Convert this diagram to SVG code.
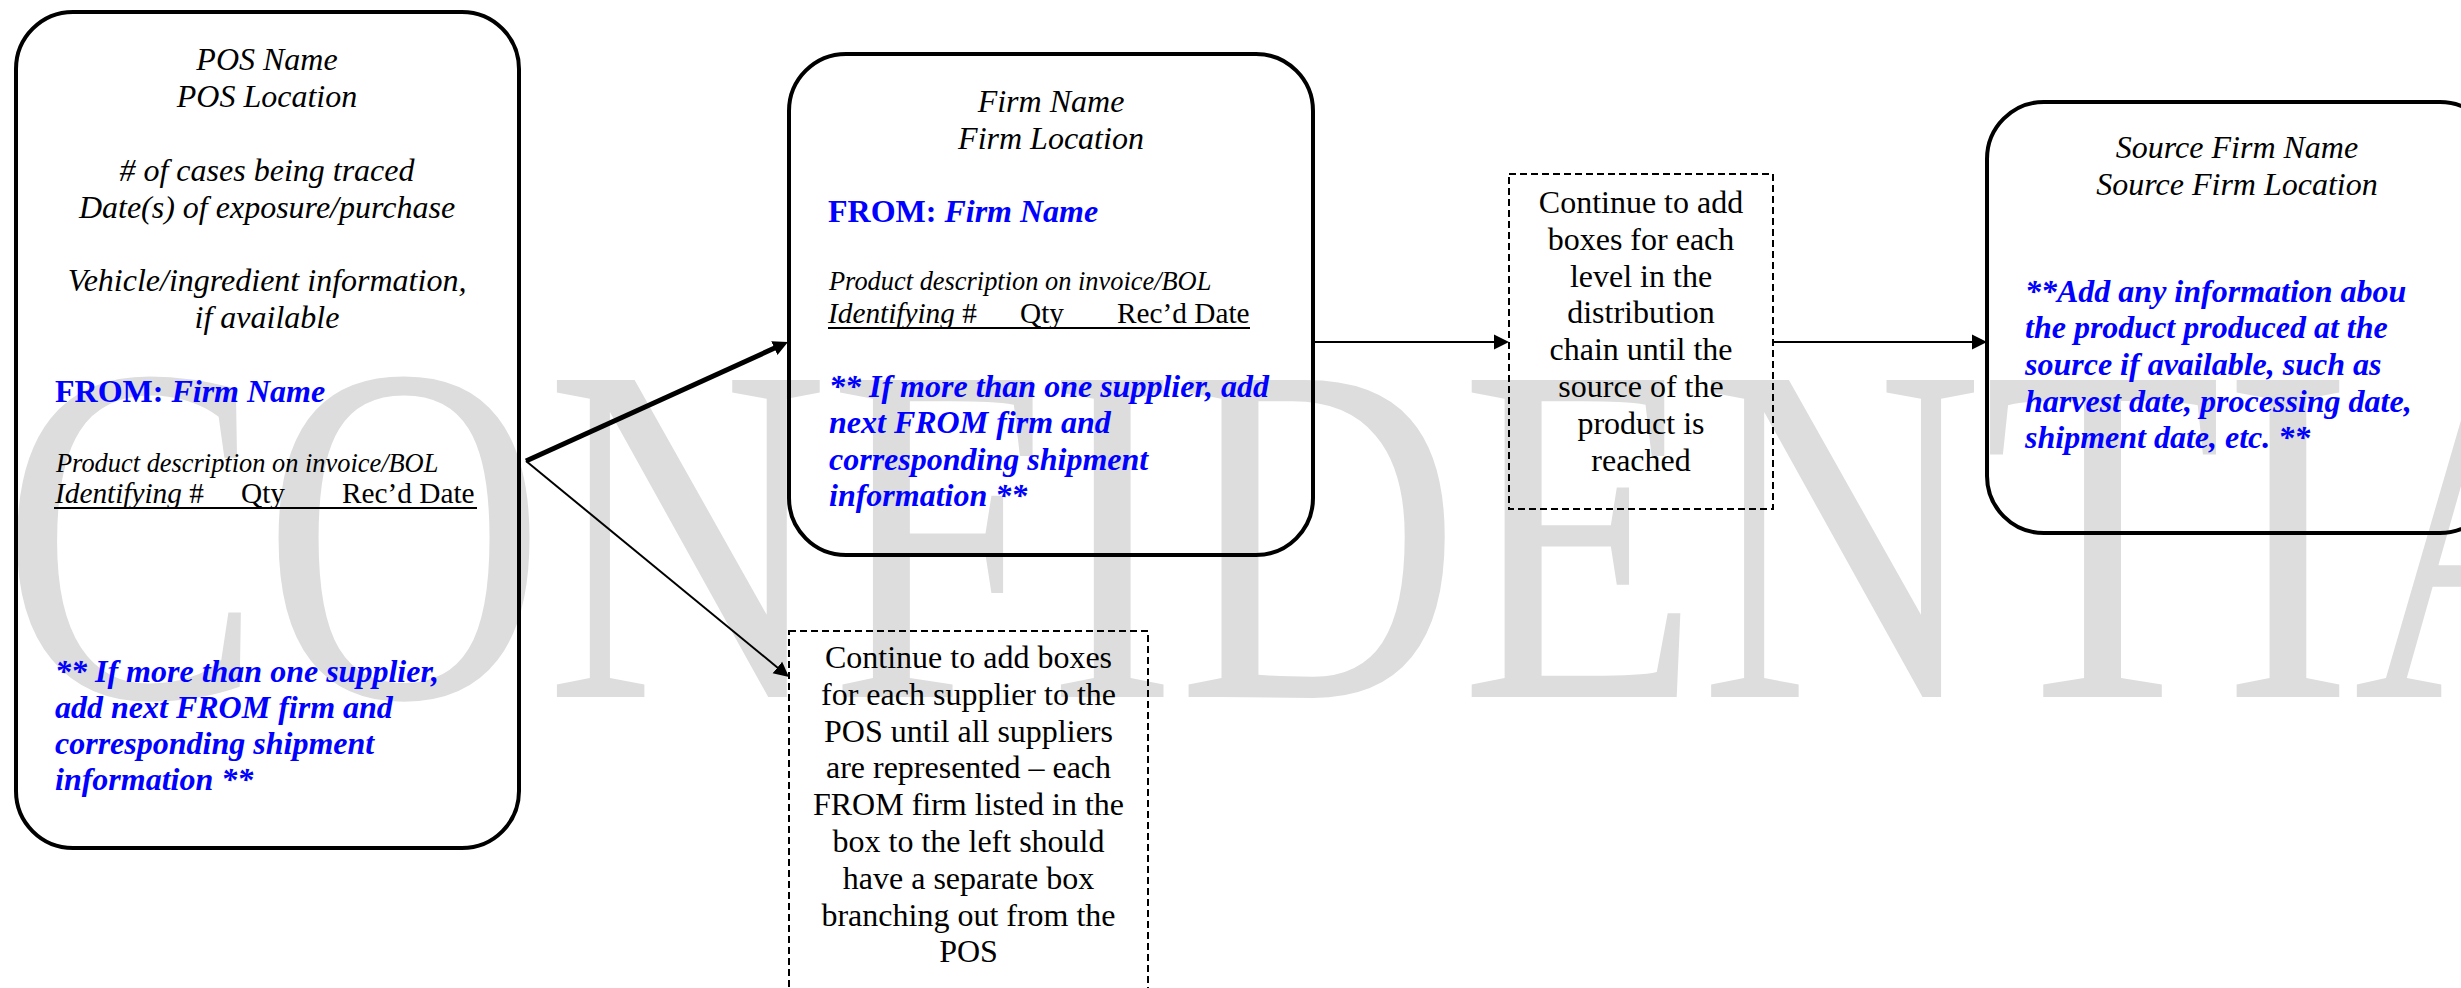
<svg xmlns="http://www.w3.org/2000/svg" width="2461" height="988" viewBox="0 0 2461 988">
<style>
.wm{font-family:"Liberation Serif","Times New Roman",serif;fill:#dddddd}
.box{fill:none;stroke:#000;stroke-width:4}
.dash{fill:none;stroke:#000;stroke-width:2;stroke-dasharray:7 4}
.t{font-family:"Liberation Serif","Times New Roman",serif;fill:#000}
.h{font-size:32px;font-style:italic;text-anchor:middle}
.n{font-size:32px;text-anchor:middle}
.b{fill:#0000ff;font-weight:bold;font-style:italic;font-size:32px}
.fr{fill:#0000ff;font-weight:bold;font-size:32px}
.pd{font-size:26.4px;font-style:italic}
.id{font-size:29.3px}
.ul{stroke:#000;stroke-width:2}
.c{fill:none;stroke:#000}
</style>
<defs>
<marker id="ah" markerUnits="userSpaceOnUse" markerWidth="16" markerHeight="16" viewBox="0 0 16 16" refX="7" refY="8" orient="auto"><path d="M0,0.5 L15,8 L0,15.5 Z" fill="#000"/></marker>
</defs>
<rect width="2461" height="988" fill="#fff"/>
<text class="wm" font-size="484" transform="translate(1,697) scale(0.81,1)">CONFIDENTIAL</text>

<g id="connectors">
<line class="c" stroke-width="5" x1="526" y1="461" x2="780.7" y2="345.3" marker-end="url(#ah)"/>
<line class="c" stroke-width="2" x1="526" y1="461" x2="782.8" y2="671.9" marker-end="url(#ah)"/>
<line class="c" stroke-width="2" x1="1313" y1="342" x2="1501" y2="342" marker-end="url(#ah)"/>
<line class="c" stroke-width="2" x1="1773" y1="342" x2="1979" y2="342" marker-end="url(#ah)"/>
</g>

<g id="pos-box">
<rect class="box" x="16" y="12" width="503" height="836" rx="57"/>
<text class="t h" x="267" y="70.4">POS Name</text>
<text class="t h" x="267" y="107.2">POS Location</text>
<text class="t h" x="267" y="180.8"># of cases being traced</text>
<text class="t h" x="267" y="217.6">Date(s) of exposure/purchase</text>
<text class="t h" x="267" y="291.2">Vehicle/ingredient information,</text>
<text class="t h" x="267" y="328">if available</text>
<text class="t fr" x="55" y="402">FROM: <tspan font-style="italic">Firm Name</tspan></text>
<text class="t pd" x="56" y="472">Product description on invoice/BOL</text>
<text class="t id" y="503"><tspan x="55" font-style="italic">Identifying</tspan> #<tspan x="241">Qty</tspan><tspan x="342">Rec’d Date</tspan></text>
<line class="ul" x1="54" y1="508" x2="477" y2="508"/>
<text class="t b" x="55" y="682">** If more than one supplier,</text>
<text class="t b" x="55" y="718">add next FROM firm and</text>
<text class="t b" x="55" y="754">corresponding shipment</text>
<text class="t b" x="55" y="790">information **</text>
</g>

<g id="firm-box">
<rect class="box" x="789" y="54" width="524" height="501" rx="57"/>
<text class="t h" x="1051" y="112">Firm Name</text>
<text class="t h" x="1051" y="148.5">Firm Location</text>
<text class="t fr" x="828" y="222">FROM: <tspan font-style="italic">Firm Name</tspan></text>
<text class="t pd" x="829" y="290">Product description on invoice/BOL</text>
<text class="t id" y="323"><tspan x="828" font-style="italic">Identifying</tspan> #<tspan x="1020">Qty</tspan><tspan x="1117">Rec’d Date</tspan></text>
<line class="ul" x1="828" y1="328" x2="1250" y2="328"/>
<text class="t b" x="829" y="397">** If more than one supplier, add</text>
<text class="t b" x="829" y="433">next FROM firm and</text>
<text class="t b" x="829" y="470">corresponding shipment</text>
<text class="t b" x="829" y="506">information **</text>
</g>

<g id="continue-level-box">
<rect class="dash" x="1509" y="174" width="264" height="335"/>
<text class="t n" x="1641" y="213">Continue to add</text>
<text class="t n" x="1641" y="249.8">boxes for each</text>
<text class="t n" x="1641" y="286.6">level in the</text>
<text class="t n" x="1641" y="323.4">distribution</text>
<text class="t n" x="1641" y="360.2">chain until the</text>
<text class="t n" x="1641" y="397">source of the</text>
<text class="t n" x="1641" y="433.8">product is</text>
<text class="t n" x="1641" y="470.6">reached</text>
</g>

<g id="continue-supplier-box">
<rect class="dash" x="789" y="631" width="359" height="380"/>
<text class="t n" x="968.5" y="668">Continue to add boxes</text>
<text class="t n" x="968.5" y="704.8">for each supplier to the</text>
<text class="t n" x="968.5" y="741.6">POS until all suppliers</text>
<text class="t n" x="968.5" y="778.4">are represented – each</text>
<text class="t n" x="968.5" y="815.2">FROM firm listed in the</text>
<text class="t n" x="968.5" y="852">box to the left should</text>
<text class="t n" x="968.5" y="888.8">have a separate box</text>
<text class="t n" x="968.5" y="925.6">branching out from the</text>
<text class="t n" x="968.5" y="962.4">POS</text>
</g>

<g id="source-box">
<rect class="box" x="1987" y="102" width="510" height="431" rx="57"/>
<text class="t h" x="2237" y="158">Source Firm Name</text>
<text class="t h" x="2237" y="195">Source Firm Location</text>
<text class="t b" x="2025" y="302">**Add any information abou</text>
<text class="t b" x="2025" y="338">the product produced at the</text>
<text class="t b" x="2025" y="375">source if available, such as</text>
<text class="t b" x="2025" y="412">harvest date, processing date,</text>
<text class="t b" x="2025" y="448">shipment date, etc. **</text>
</g>
</svg>
